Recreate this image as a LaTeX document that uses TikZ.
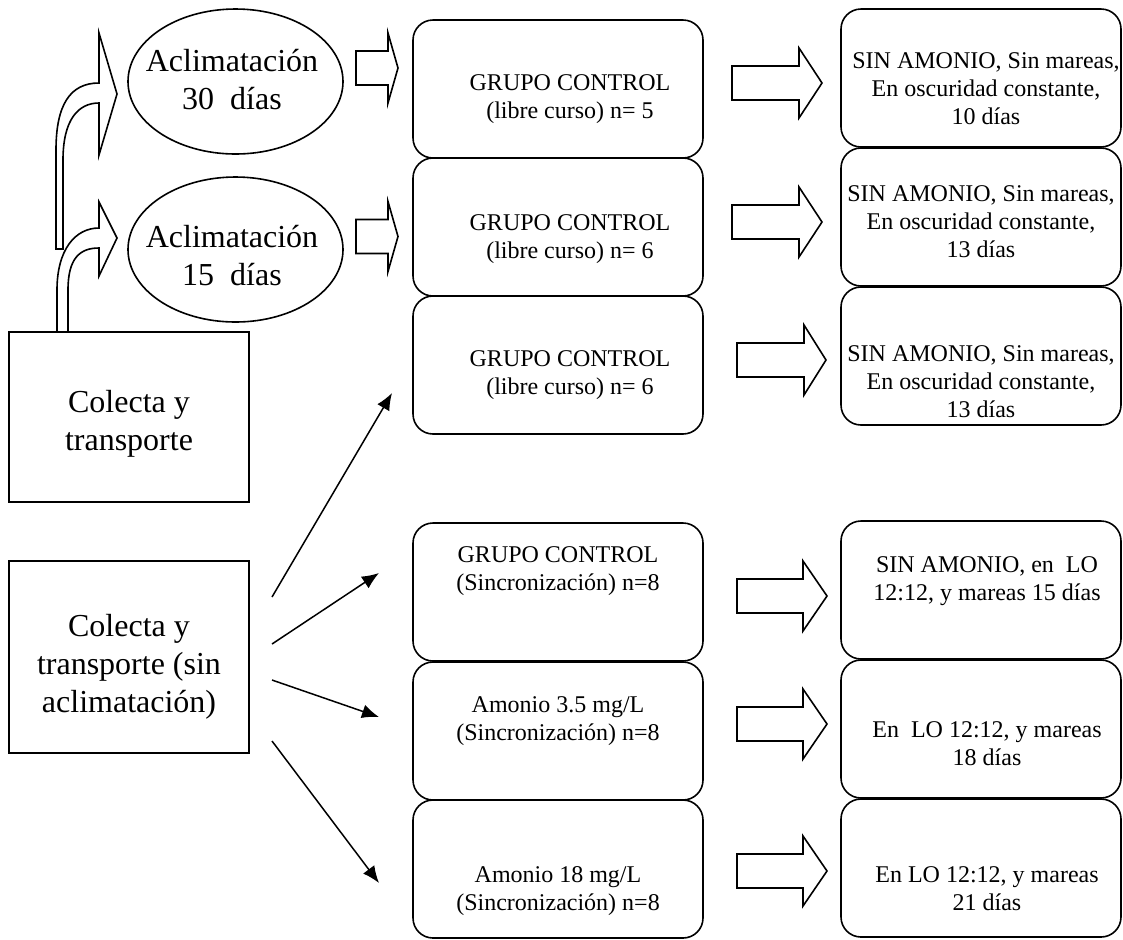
\documentclass[tikz,border=0pt]{standalone}
\usepackage{fontspec}
\setmainfont{Liberation Serif}
\usetikzlibrary{shapes,arrows.meta,positioning}

% flecha de bloque: x, y (centro de la cola), largo del cuerpo, largo de la punta
\newcommand{\flechaBloque}[4]{%
  \draw[bloque] (#1,#2-17) -- ++(#3,0) -- ++(0,-18) -- ++(#4,35) -- ++(-#4,35)
    -- ++(0,-18) -- ++(-#3,0) -- cycle;}

\begin{document}
\begin{tikzpicture}[x=0.5pt,y=-0.5pt]
  \tikzstyle{caja}=[draw, rounded corners=10pt, line width=0.8pt, minimum width=145pt, minimum height=69pt, inner sep=0pt]
  \tikzstyle{cajader}=[caja, minimum width=140pt]
  \tikzstyle{elipse}=[ellipse, draw, line width=0.8pt, minimum width=107.5pt, minimum height=72.5pt, inner sep=0pt]
  \tikzstyle{colecta}=[rectangle, draw, line width=0.8pt, minimum width=120pt, inner sep=0pt]
  \tikzstyle{grande}=[align=center, inner sep=0pt, font=\fontsize{16}{19}\selectfont]
  \tikzstyle{texto}=[align=center, inner sep=0pt, font=\fontsize{12}{14}\selectfont]
  \tikzstyle{bloque}=[draw, line width=0.8pt, fill=white, line join=miter]
  \tikzstyle{flechita}=[-{Latex[length=8.5pt,width=7pt]}, line width=0.75pt]

  \useasboundingbox (0,0) rectangle (1123,939);

  % Colecta y aclimatacion
  \node[colecta, minimum height=85pt] (col1) at (129,417) {};
  \node[colecta, minimum height=96pt] (col2) at (129,657) {};
  \node[grande] (col1t) at (129,424) {Colecta y\\transporte};
  \node[grande] (col2t) at (129,667) {Colecta y\\transporte (sin\\aclimatación)};
  \node[elipse] (acl30) at (235.5,81.5) {};
  \node[elipse] (acl15) at (235.5,249.5) {};
  \node[grande] (acl30t) at (232,80) {Aclimatación\\30\ \ días};
  \node[grande] (acl15t) at (232,256) {Aclimatación\\15\ \ días};

  % Flechas curvas
  \draw[bloque] (56,249) -- (56,150) .. controls (56,105) and (70,83) .. (99,83) -- (99,33)
    -- (117,94) -- (99,155) -- (99,103) .. controls (78,103) and (63,120) .. (63,160) -- (63,249) -- cycle;
  \draw[bloque] (57,332) -- (57,290) .. controls (57,250) and (75,228) .. (99,228) -- (99,202)
    -- (117,238) -- (99,276) -- (99,248) .. controls (80,248) and (68,258) .. (68,290) -- (68,332) -- cycle;

  % Grupos de libre curso
  \node[caja] (lc1) at (558,89) {};
  \node[caja] (lc2) at (558,227) {};
  \node[caja] (lc3) at (558,365) {};
  \node[texto] (lc1t) at (570,99) {GRUPO CONTROL\\(libre curso) n= 5};
  \node[texto] (lc2t) at (570,239) {GRUPO CONTROL\\(libre curso) n= 6};
  \node[texto] (lc3t) at (570,375) {GRUPO CONTROL\\(libre curso) n= 6};

  \node[cajader] (osc1) at (981,78) {};
  \node[cajader] (osc2) at (981,217) {};
  \node[cajader] (osc3) at (981,356) {};
  \node[texto] (osc1t) at (986,89) {SIN AMONIO, Sin mareas,\\En oscuridad constante,\\10 días};
  \node[texto] (osc2t) at (981,221.5) {SIN AMONIO, Sin mareas,\\En oscuridad constante,\\13 días};
  \node[texto] (osc3t) at (981,382) {SIN AMONIO, Sin mareas,\\En oscuridad constante,\\13 días};

  % Grupos de sincronizacion
  \node[caja] (sc1) at (558,592) {};
  \node[caja] (sc2) at (558,731) {};
  \node[caja] (sc3) at (558,869) {};
  \node[texto] (sc1t) at (558,571) {GRUPO CONTROL\\(Sincronización) n=8};
  \node[texto] (sc2t) at (558,721) {Amonio 3.5 mg/L\\(Sincronización) n=8};
  \node[texto] (sc3t) at (558,891) {Amonio 18 mg/L\\(Sincronización) n=8};

  \node[cajader] (lo1) at (981,590) {};
  \node[cajader] (lo2) at (981,729) {};
  \node[cajader] (lo3) at (981,868) {};
  \node[texto] (lo1t) at (987,581) {SIN AMONIO, en\ \ LO\\12:12, y mareas 15 días};
  \node[texto] (lo2t) at (987,744) {En\ \ LO 12:12, y mareas\\18 días};
  \node[texto] (lo3t) at (987,888.5) {En LO 12:12, y mareas\\21 días};

  % Flechas de bloque
  \flechaBloque{356}{68}{32}{10}
  \flechaBloque{356}{236.5}{32}{10}
  \flechaBloque{732}{83}{67}{23}
  \flechaBloque{732}{222}{67}{23}
  \flechaBloque{737}{360}{67}{22}
  \flechaBloque{737}{596}{66}{24}
  \flechaBloque{737}{724}{66}{24}
  \flechaBloque{737}{871}{66}{24}

  % Flechas sin aclimatacion
  \coordinate (s1) at (272,597);
  \coordinate (s2) at (272,644);
  \coordinate (s3) at (272,680);
  \coordinate (s4) at (272,741);
  \coordinate (e1) at (392,393);
  \coordinate (e2) at (379,573);
  \coordinate (e3) at (379,717);
  \coordinate (e4) at (379,883);
  \draw[flechita] (s1) -- (e1);
  \draw[flechita] (s2) -- (e2);
  \draw[flechita] (s3) -- (e3);
  \draw[flechita] (s4) -- (e4);
\end{tikzpicture}
\end{document}
